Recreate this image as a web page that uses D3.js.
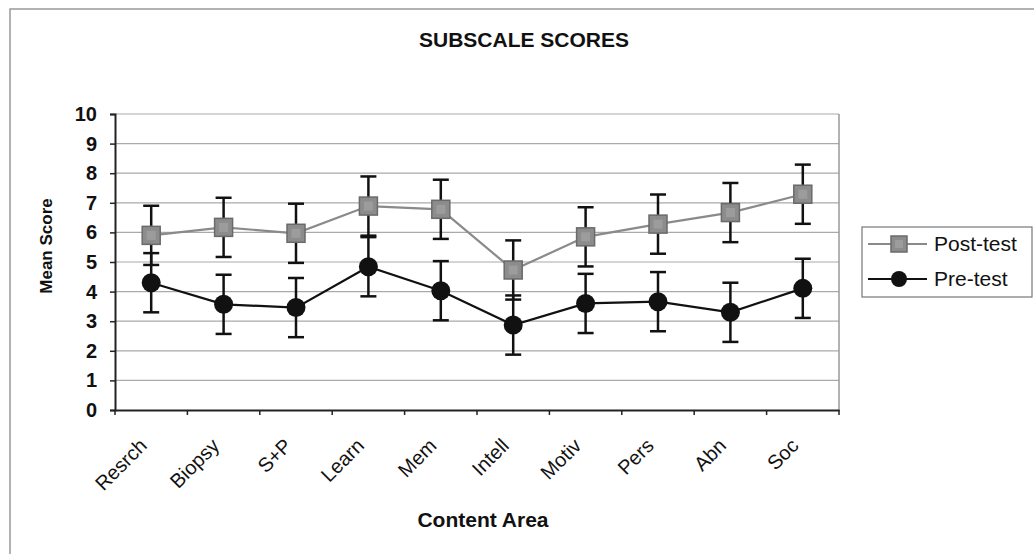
<!DOCTYPE html>
<html><head><meta charset="utf-8">
<script src="https://cdn.jsdelivr.net/npm/d3@7"></script>
<style>body{margin:0;background:#fff}svg{display:block;font-family:Arial,"Liberation Sans",sans-serif}</style>
</head><body><svg id="c" width="1034" height="554"></svg>
<script>
const categories = ["Resrch","Biopsy","S+P","Learn","Mem","Intell","Motiv","Pers","Abn","Soc"];
const postTest = [5.9,6.17,5.97,6.89,6.78,4.73,5.85,6.28,6.67,7.29];
const preTest  = [4.3,3.57,3.46,4.84,4.03,2.87,3.6,3.66,3.3,4.11];
const postErr  = [1,1,1,1,1,1,1,1,1,1];
const preErr   = [1,1,1,1,1,1,1,1,1,1];
const yTicks   = [0,1,2,3,4,5,6,7,8,9,10];
const seriesNames = ["Post-test","Pre-test"];

const svg = d3.select("#c");
const L=115,R=839,T=114,B=410;

svg.append("rect").attr("x",10).attr("y",9).attr("width",1040).attr("height",560)
  .attr("fill","#fff").attr("stroke","#999").attr("stroke-width",1.5);

const x = d3.scaleBand().domain(categories).range([L,R]);
const y = d3.scaleLinear().domain([0,10]).range([B,T]);

// grid
svg.append("g").selectAll("line").data(yTicks.filter(d=>d>0)).join("line")
  .attr("x1",L).attr("x2",R).attr("y1",d=>y(d)).attr("y2",d=>y(d))
  .attr("stroke","#aaa").attr("stroke-width",1.2);
svg.append("line").attr("x1",R).attr("x2",R).attr("y1",T).attr("y2",B).attr("stroke","#999").attr("stroke-width",1.5);

// y axis
const ya = svg.append("g").attr("transform",`translate(${L},0)`)
  .call(d3.axisLeft(y).tickValues(yTicks).tickSize(5).tickPadding(13).tickFormat(d3.format("d")));
ya.select(".domain").attr("stroke","#222").attr("stroke-width",2);
ya.selectAll(".tick line").attr("stroke","#222").attr("stroke-width",1.5);
ya.selectAll("text").attr("font-size",20).attr("font-weight","bold").attr("fill","#111")
  .attr("font-family","Arial,'Liberation Sans',sans-serif");

// x axis
const xa = svg.append("g").attr("transform",`translate(0,${B})`)
  .call(d3.axisBottom(x).tickSize(0).tickSizeOuter(0).tickFormat(""));
xa.select(".domain").attr("stroke","#222").attr("stroke-width",2);
const bounds = categories.map(c=>x(c)).concat([R]);
svg.append("g").selectAll("line").data(bounds).join("line")
  .attr("x1",d=>d).attr("x2",d=>d).attr("y1",B).attr("y2",B+5)
  .attr("stroke","#222").attr("stroke-width",1.5);
svg.append("g").selectAll("text").data(categories).join("text")
  .attr("transform",d=>`translate(${x(d)+x.bandwidth()/2-3},${B+37}) rotate(-45)`)
  .attr("text-anchor","end").attr("font-size",20).attr("fill","#111").text(d=>d);

const cx = d=>x(d)+x.bandwidth()/2;

// lines
const lineGen = (vals)=>d3.line().x((d,i)=>cx(categories[i])).y(d=>y(d))(vals);
svg.append("path").attr("d",lineGen(postTest)).attr("fill","none").attr("stroke","#8a8a8a").attr("stroke-width",2.2);
svg.append("path").attr("d",lineGen(preTest)).attr("fill","none").attr("stroke","#111").attr("stroke-width",2.2);

// error bars
function errBars(vals,errs){
  const g=svg.append("g").attr("stroke","#111").attr("stroke-width",2.5);
  vals.forEach((v,i)=>{
    const c=cx(categories[i]);
    g.append("line").attr("x1",c).attr("x2",c).attr("y1",y(v-errs[i])).attr("y2",y(v+errs[i]));
    [v-errs[i],v+errs[i]].forEach(e=>g.append("line").attr("x1",c-8).attr("x2",c+8).attr("y1",y(e)).attr("y2",y(e)));
  });
}
errBars(postTest,postErr);
errBars(preTest,preErr);

// markers
function sq(g,px,py,s){
  g.append("rect").attr("x",px-s/2).attr("y",py-s/2).attr("width",s).attr("height",s)
   .attr("fill","#8c8c8c").attr("stroke","#6a6a6a").attr("stroke-width",1.5);
  g.append("rect").attr("x",px-s/4).attr("y",py-s/4).attr("width",s/2).attr("height",s/2)
   .attr("fill","#9c9c9c").attr("stroke","none");
}
const mg=svg.append("g");
postTest.forEach((v,i)=>sq(mg,cx(categories[i]),y(v),18));
svg.append("g").selectAll("circle").data(preTest).join("circle")
  .attr("cx",(d,i)=>cx(categories[i])).attr("cy",d=>y(d)).attr("r",9.5).attr("fill","#111");

// title & labels
svg.append("text").attr("x",524).attr("y",47).attr("text-anchor","middle")
  .attr("font-size",21).attr("font-weight","bold").attr("fill","#111").text("SUBSCALE SCORES");
svg.append("text").attr("transform","translate(52,246) rotate(-90)").attr("text-anchor","middle")
  .attr("font-size",17).attr("font-weight","bold").attr("fill","#111").text("Mean Score");
svg.append("text").attr("x",483).attr("y",527).attr("text-anchor","middle")
  .attr("font-size",21).attr("font-weight","bold").attr("fill","#111").text("Content Area");

// legend
const lg=svg.append("g");
lg.append("rect").attr("x",862).attr("y",227).attr("width",170).attr("height",70)
  .attr("fill","#fff").attr("stroke","#777").attr("stroke-width",1.2);
lg.append("line").attr("x1",868).attr("x2",927).attr("y1",244).attr("y2",244).attr("stroke","#8a8a8a").attr("stroke-width",2.2);
sq(lg,899,244,16);
lg.append("line").attr("x1",868).attr("x2",927).attr("y1",279).attr("y2",279).attr("stroke","#111").attr("stroke-width",2.2);
lg.append("circle").attr("cx",899).attr("cy",279).attr("r",8).attr("fill","#111");
lg.selectAll("text.l").data(seriesNames).join("text").attr("class","l")
  .attr("x",934).attr("y",(d,i)=>251+i*35).attr("font-size",21).attr("fill","#111").text(d=>d);
</script></body></html>
